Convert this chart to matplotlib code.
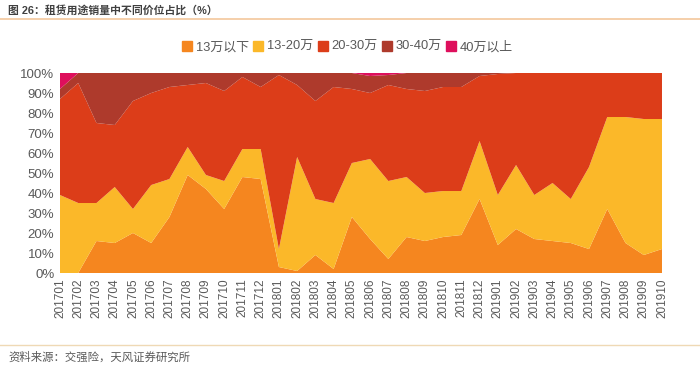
import numpy as np
import matplotlib.pyplot as plt
from matplotlib.lines import Line2D

plt.rcParams['font.family'] = ['Liberation Sans', 'Noto Sans CJK SC']

# 月份
months = ['201701', '201702', '201703', '201704', '201705', '201706', '201707',
          '201708', '201709', '201710', '201711', '201712', '201801', '201802',
          '201803', '201804', '201805', '201806', '201807', '201808', '201809',
          '201810', '201811', '201812', '201901', '201902', '201903', '201904',
          '201905', '201906', '201907', '201908', '201909', '201910']

# 各价位占比 (%)
below_13 = [0, 0, 16, 15, 20, 15, 28, 49, 42, 32, 48, 47, 3, 1, 9, 2, 28, 17,
            7, 18, 16, 18, 19, 37, 14, 22, 17, 16, 15, 12, 32, 15, 9, 12]
p13_20 = [39, 35, 19, 28, 12, 29, 19, 14, 7, 14, 14, 15, 9, 57, 28, 33, 27, 40,
          39, 30, 24, 23, 22, 29, 25, 32, 22, 29, 22, 41, 46, 63, 68, 65]
p20_30 = [48, 60, 40, 31, 54, 46, 46, 31, 46, 45, 36, 31, 87, 36, 49, 58, 37, 33,
          48, 44, 51, 52, 52, 32.5, 60.5, 46, 61, 55, 63, 47, 22, 22, 23, 23]
p30_40 = [5, 5, 25, 26, 14, 10, 7, 6, 5, 9, 2, 7, 1, 6, 14, 7, 8, 8.5,
          5, 8, 9, 7, 7, 1.5, 0.5, 0, 0, 0, 0, 0, 0, 0, 0, 0]
above_40 = [8, 0, 0, 0, 0, 0, 0, 0, 0, 0, 0, 0, 0, 0, 0, 0, 0, 1.5,
            1, 0, 0, 0, 0, 0, 0, 0, 0, 0, 0, 0, 0, 0, 0, 0]

labels = ['13万以下', '13-20万', '20-30万', '30-40万', '40万以上']
colors = ['#F5861F', '#FBB829', '#DC3D19', '#AE3A2C', '#DE0F5C']

x = np.arange(len(months))

fig = plt.figure(figsize=(7, 3.65), dpi=100)
ax = fig.add_axes([0.0857, 0.252, 0.86, 0.548])

ax.stackplot(x, below_13, p13_20, p20_30, p30_40, above_40,
             colors=colors, linewidth=0)

ax.set_xlim(0, len(months) - 1)
ax.set_ylim(0, 100)
ax.set_yticks(range(0, 101, 10))
ax.set_yticklabels([f'{v}%' for v in range(0, 101, 10)], fontsize=9.5, color='#595959')
ax.set_xticks(x)
ax.set_xticklabels(months, rotation=90, fontsize=8.5, color='#595959')
ax.tick_params(length=0, pad=4)
for s in ax.spines.values():
    s.set_visible(False)

handles = [Line2D([], [], marker='s', linestyle='none', markersize=6.5,
                  markerfacecolor=c, markeredgecolor=c) for c in colors]
fig.legend(handles, labels, loc='center', bbox_to_anchor=(0.497, 0.871), ncol=5,
           frameon=False, fontsize=9.3, handlelength=0.7, handletextpad=0.35,
           columnspacing=0.35, labelcolor='#595959')

# 标题与来源
fig.text(0.012, 0.972, '图 26：租赁用途销量中不同价位占比（%）', fontsize=7.8,
         fontweight='bold', color='#404040', va='center', ha='left')
fig.add_artist(Line2D([0, 1], [0.949, 0.949], color='#F3C79C', linewidth=1.2,
                      transform=fig.transFigure))
fig.add_artist(Line2D([0, 1], [0.055, 0.055], color='#EFD9B5', linewidth=1,
                      transform=fig.transFigure))
fig.text(0.012, 0.022, '资料来源：交强险，天风证券研究所', fontsize=8.2,
         color='#595959', va='center', ha='left')

fig.savefig('out.png', dpi=100)
